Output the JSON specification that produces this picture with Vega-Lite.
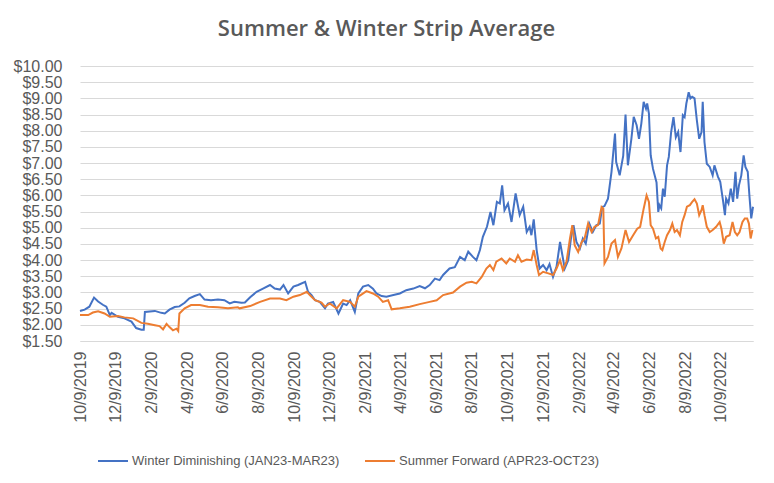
{
"$schema": "https://vega.github.io/schema/vega-lite/v6.json",
"width": 673, "height": 275,
"autosize": "none",
"padding": {"left": 80, "top": 66, "right": 21, "bottom": 142},
"background": "white",
"title": {"text": "Summer & Winter Strip Average", "font": "Open Sans", "fontSize": 22, "fontWeight": 600, "color": "#595959", "anchor": "middle", "dx": -30, "offset": 17},
"data": {"values": [
{"date":"2019-10-09","series":"Winter","price":2.43},
{"date":"2019-10-17","series":"Winter","price":2.47},
{"date":"2019-10-25","series":"Winter","price":2.56},
{"date":"2019-11-02","series":"Winter","price":2.84},
{"date":"2019-11-09","series":"Winter","price":2.72},
{"date":"2019-11-17","series":"Winter","price":2.62},
{"date":"2019-11-23","series":"Winter","price":2.56},
{"date":"2019-11-29","series":"Winter","price":2.30},
{"date":"2019-12-02","series":"Winter","price":2.37},
{"date":"2019-12-13","series":"Winter","price":2.25},
{"date":"2019-12-24","series":"Winter","price":2.20},
{"date":"2020-01-05","series":"Winter","price":2.10},
{"date":"2020-01-13","series":"Winter","price":1.90},
{"date":"2020-01-22","series":"Winter","price":1.85},
{"date":"2020-01-26","series":"Winter","price":1.85},
{"date":"2020-01-28","series":"Winter","price":2.40},
{"date":"2020-02-14","series":"Winter","price":2.43},
{"date":"2020-02-25","series":"Winter","price":2.37},
{"date":"2020-03-02","series":"Winter","price":2.35},
{"date":"2020-03-10","series":"Winter","price":2.47},
{"date":"2020-03-19","series":"Winter","price":2.55},
{"date":"2020-03-27","series":"Winter","price":2.57},
{"date":"2020-04-05","series":"Winter","price":2.68},
{"date":"2020-04-13","series":"Winter","price":2.82},
{"date":"2020-04-22","series":"Winter","price":2.89},
{"date":"2020-05-01","series":"Winter","price":2.95},
{"date":"2020-05-09","series":"Winter","price":2.78},
{"date":"2020-05-20","series":"Winter","price":2.76},
{"date":"2020-06-01","series":"Winter","price":2.78},
{"date":"2020-06-12","series":"Winter","price":2.76},
{"date":"2020-06-21","series":"Winter","price":2.66},
{"date":"2020-06-29","series":"Winter","price":2.71},
{"date":"2020-07-11","series":"Winter","price":2.68},
{"date":"2020-07-17","series":"Winter","price":2.69},
{"date":"2020-07-26","series":"Winter","price":2.85},
{"date":"2020-08-06","series":"Winter","price":3.02},
{"date":"2020-08-17","series":"Winter","price":3.12},
{"date":"2020-08-29","series":"Winter","price":3.23},
{"date":"2020-09-06","series":"Winter","price":3.12},
{"date":"2020-09-15","series":"Winter","price":3.09},
{"date":"2020-09-21","series":"Winter","price":3.23},
{"date":"2020-09-29","series":"Winter","price":2.97},
{"date":"2020-10-08","series":"Winter","price":3.18},
{"date":"2020-10-16","series":"Winter","price":3.23},
{"date":"2020-10-28","series":"Winter","price":3.33},
{"date":"2020-11-02","series":"Winter","price":3.02},
{"date":"2020-11-08","series":"Winter","price":2.92},
{"date":"2020-11-14","series":"Winter","price":2.76},
{"date":"2020-11-22","series":"Winter","price":2.71},
{"date":"2020-12-01","series":"Winter","price":2.51},
{"date":"2020-12-06","series":"Winter","price":2.66},
{"date":"2020-12-15","series":"Winter","price":2.71},
{"date":"2020-12-24","series":"Winter","price":2.35},
{"date":"2021-01-01","series":"Winter","price":2.66},
{"date":"2021-01-07","series":"Winter","price":2.61},
{"date":"2021-01-13","series":"Winter","price":2.76},
{"date":"2021-01-21","series":"Winter","price":2.40},
{"date":"2021-01-27","series":"Winter","price":2.97},
{"date":"2021-02-04","series":"Winter","price":3.18},
{"date":"2021-02-13","series":"Winter","price":3.23},
{"date":"2021-02-21","series":"Winter","price":3.12},
{"date":"2021-02-27","series":"Winter","price":2.97},
{"date":"2021-03-08","series":"Winter","price":2.89},
{"date":"2021-03-16","series":"Winter","price":2.87},
{"date":"2021-03-28","series":"Winter","price":2.92},
{"date":"2021-04-08","series":"Winter","price":2.97},
{"date":"2021-04-19","series":"Winter","price":3.07},
{"date":"2021-05-01","series":"Winter","price":3.12},
{"date":"2021-05-12","series":"Winter","price":3.20},
{"date":"2021-05-21","series":"Winter","price":3.13},
{"date":"2021-05-29","series":"Winter","price":3.23},
{"date":"2021-06-07","series":"Winter","price":3.43},
{"date":"2021-06-15","series":"Winter","price":3.38},
{"date":"2021-06-21","series":"Winter","price":3.54},
{"date":"2021-07-02","series":"Winter","price":3.74},
{"date":"2021-07-11","series":"Winter","price":3.78},
{"date":"2021-07-20","series":"Winter","price":4.10},
{"date":"2021-07-28","series":"Winter","price":4.00},
{"date":"2021-08-03","series":"Winter","price":4.26},
{"date":"2021-08-11","series":"Winter","price":4.10},
{"date":"2021-08-17","series":"Winter","price":4.00},
{"date":"2021-08-23","series":"Winter","price":4.31},
{"date":"2021-08-28","series":"Winter","price":4.72},
{"date":"2021-09-04","series":"Winter","price":5.03},
{"date":"2021-09-10","series":"Winter","price":5.49},
{"date":"2021-09-15","series":"Winter","price":5.08},
{"date":"2021-09-21","series":"Winter","price":5.80},
{"date":"2021-09-26","series":"Winter","price":5.75},
{"date":"2021-09-30","series":"Winter","price":6.31},
{"date":"2021-10-04","series":"Winter","price":5.54},
{"date":"2021-10-10","series":"Winter","price":5.75},
{"date":"2021-10-16","series":"Winter","price":5.18},
{"date":"2021-10-23","series":"Winter","price":6.06},
{"date":"2021-10-30","series":"Winter","price":5.39},
{"date":"2021-11-05","series":"Winter","price":5.65},
{"date":"2021-11-11","series":"Winter","price":4.87},
{"date":"2021-11-16","series":"Winter","price":5.03},
{"date":"2021-11-19","series":"Winter","price":4.77},
{"date":"2021-11-23","series":"Winter","price":5.26},
{"date":"2021-11-28","series":"Winter","price":4.31},
{"date":"2021-12-03","series":"Winter","price":3.74},
{"date":"2021-12-09","series":"Winter","price":3.85},
{"date":"2021-12-15","series":"Winter","price":3.69},
{"date":"2021-12-20","series":"Winter","price":3.88},
{"date":"2021-12-26","series":"Winter","price":3.48},
{"date":"2022-01-01","series":"Winter","price":3.80},
{"date":"2022-01-07","series":"Winter","price":4.56},
{"date":"2022-01-11","series":"Winter","price":4.15},
{"date":"2022-01-15","series":"Winter","price":3.74},
{"date":"2022-01-21","series":"Winter","price":4.00},
{"date":"2022-01-26","series":"Winter","price":4.72},
{"date":"2022-01-30","series":"Winter","price":5.08},
{"date":"2022-02-04","series":"Winter","price":4.56},
{"date":"2022-02-10","series":"Winter","price":4.36},
{"date":"2022-02-15","series":"Winter","price":4.67},
{"date":"2022-02-20","series":"Winter","price":4.51},
{"date":"2022-02-26","series":"Winter","price":5.13},
{"date":"2022-03-04","series":"Winter","price":4.87},
{"date":"2022-03-10","series":"Winter","price":5.08},
{"date":"2022-03-16","series":"Winter","price":5.13},
{"date":"2022-03-20","series":"Winter","price":5.64},
{"date":"2022-03-24","series":"Winter","price":5.67},
{"date":"2022-03-30","series":"Winter","price":5.90},
{"date":"2022-04-05","series":"Winter","price":6.73},
{"date":"2022-04-11","series":"Winter","price":7.91},
{"date":"2022-04-13","series":"Winter","price":7.03},
{"date":"2022-04-19","series":"Winter","price":6.62},
{"date":"2022-04-25","series":"Winter","price":7.22},
{"date":"2022-04-29","series":"Winter","price":8.50},
{"date":"2022-05-03","series":"Winter","price":6.93},
{"date":"2022-05-09","series":"Winter","price":7.75},
{"date":"2022-05-13","series":"Winter","price":8.43},
{"date":"2022-05-18","series":"Winter","price":8.17},
{"date":"2022-05-22","series":"Winter","price":7.75},
{"date":"2022-05-26","series":"Winter","price":8.22},
{"date":"2022-05-30","series":"Winter","price":8.89},
{"date":"2022-06-03","series":"Winter","price":8.68},
{"date":"2022-06-05","series":"Winter","price":8.84},
{"date":"2022-06-08","series":"Winter","price":8.53},
{"date":"2022-06-11","series":"Winter","price":7.24},
{"date":"2022-06-15","series":"Winter","price":6.82},
{"date":"2022-06-21","series":"Winter","price":6.40},
{"date":"2022-06-24","series":"Winter","price":5.49},
{"date":"2022-06-26","series":"Winter","price":5.70},
{"date":"2022-06-29","series":"Winter","price":5.60},
{"date":"2022-07-02","series":"Winter","price":6.21},
{"date":"2022-07-05","series":"Winter","price":5.96},
{"date":"2022-07-09","series":"Winter","price":6.93},
{"date":"2022-07-12","series":"Winter","price":7.19},
{"date":"2022-07-16","series":"Winter","price":7.96},
{"date":"2022-07-20","series":"Winter","price":8.42},
{"date":"2022-07-24","series":"Winter","price":7.80},
{"date":"2022-07-28","series":"Winter","price":7.96},
{"date":"2022-08-01","series":"Winter","price":7.34},
{"date":"2022-08-05","series":"Winter","price":8.48},
{"date":"2022-08-08","series":"Winter","price":8.42},
{"date":"2022-08-11","series":"Winter","price":8.84},
{"date":"2022-08-15","series":"Winter","price":9.19},
{"date":"2022-08-18","series":"Winter","price":9.00},
{"date":"2022-08-21","series":"Winter","price":9.05},
{"date":"2022-08-25","series":"Winter","price":9.00},
{"date":"2022-08-29","series":"Winter","price":8.32},
{"date":"2022-09-02","series":"Winter","price":7.75},
{"date":"2022-09-06","series":"Winter","price":7.96},
{"date":"2022-09-08","series":"Winter","price":8.89},
{"date":"2022-09-11","series":"Winter","price":7.65},
{"date":"2022-09-15","series":"Winter","price":6.98},
{"date":"2022-09-20","series":"Winter","price":6.88},
{"date":"2022-09-25","series":"Winter","price":6.62},
{"date":"2022-09-28","series":"Winter","price":6.93},
{"date":"2022-10-04","series":"Winter","price":6.58},
{"date":"2022-10-08","series":"Winter","price":6.42},
{"date":"2022-10-13","series":"Winter","price":5.80},
{"date":"2022-10-16","series":"Winter","price":5.39},
{"date":"2022-10-18","series":"Winter","price":5.90},
{"date":"2022-10-22","series":"Winter","price":5.75},
{"date":"2022-10-26","series":"Winter","price":6.21},
{"date":"2022-10-30","series":"Winter","price":5.80},
{"date":"2022-11-03","series":"Winter","price":6.73},
{"date":"2022-11-06","series":"Winter","price":5.90},
{"date":"2022-11-09","series":"Winter","price":6.31},
{"date":"2022-11-13","series":"Winter","price":6.62},
{"date":"2022-11-17","series":"Winter","price":7.24},
{"date":"2022-11-20","series":"Winter","price":6.88},
{"date":"2022-11-24","series":"Winter","price":6.73},
{"date":"2022-11-27","series":"Winter","price":5.96},
{"date":"2022-11-30","series":"Winter","price":5.29},
{"date":"2022-12-03","series":"Winter","price":5.65},
{"date":"2019-10-09","series":"Summer","price":2.30},
{"date":"2019-10-23","series":"Summer","price":2.30},
{"date":"2019-10-31","series":"Summer","price":2.38},
{"date":"2019-11-09","series":"Summer","price":2.42},
{"date":"2019-11-20","series":"Summer","price":2.35},
{"date":"2019-11-29","series":"Summer","price":2.25},
{"date":"2019-12-13","series":"Summer","price":2.27},
{"date":"2019-12-24","series":"Summer","price":2.23},
{"date":"2020-01-08","series":"Summer","price":2.20},
{"date":"2020-01-22","series":"Summer","price":2.06},
{"date":"2020-02-02","series":"Summer","price":2.03},
{"date":"2020-02-14","series":"Summer","price":1.99},
{"date":"2020-02-22","series":"Summer","price":1.96},
{"date":"2020-02-28","series":"Summer","price":1.86},
{"date":"2020-03-05","series":"Summer","price":2.03},
{"date":"2020-03-10","series":"Summer","price":1.93},
{"date":"2020-03-16","series":"Summer","price":1.83},
{"date":"2020-03-22","series":"Summer","price":1.88},
{"date":"2020-03-25","series":"Summer","price":1.81},
{"date":"2020-03-27","series":"Summer","price":2.35},
{"date":"2020-04-05","series":"Summer","price":2.51},
{"date":"2020-04-16","series":"Summer","price":2.61},
{"date":"2020-05-01","series":"Summer","price":2.61},
{"date":"2020-05-15","series":"Summer","price":2.56},
{"date":"2020-06-01","series":"Summer","price":2.54},
{"date":"2020-06-18","series":"Summer","price":2.51},
{"date":"2020-07-05","series":"Summer","price":2.54},
{"date":"2020-07-08","series":"Summer","price":2.51},
{"date":"2020-07-26","series":"Summer","price":2.58},
{"date":"2020-08-12","series":"Summer","price":2.71},
{"date":"2020-08-29","series":"Summer","price":2.81},
{"date":"2020-09-15","series":"Summer","price":2.81},
{"date":"2020-09-26","series":"Summer","price":2.76},
{"date":"2020-10-08","series":"Summer","price":2.87},
{"date":"2020-10-19","series":"Summer","price":2.92},
{"date":"2020-10-31","series":"Summer","price":3.02},
{"date":"2020-11-05","series":"Summer","price":2.92},
{"date":"2020-11-14","series":"Summer","price":2.76},
{"date":"2020-11-25","series":"Summer","price":2.69},
{"date":"2020-12-01","series":"Summer","price":2.56},
{"date":"2020-12-09","series":"Summer","price":2.66},
{"date":"2020-12-21","series":"Summer","price":2.51},
{"date":"2021-01-01","series":"Summer","price":2.76},
{"date":"2021-01-13","series":"Summer","price":2.71},
{"date":"2021-01-21","series":"Summer","price":2.56},
{"date":"2021-01-27","series":"Summer","price":2.87},
{"date":"2021-02-10","series":"Summer","price":3.04},
{"date":"2021-02-21","series":"Summer","price":2.97},
{"date":"2021-03-02","series":"Summer","price":2.87},
{"date":"2021-03-10","series":"Summer","price":2.71},
{"date":"2021-03-19","series":"Summer","price":2.76},
{"date":"2021-03-25","series":"Summer","price":2.48},
{"date":"2021-04-08","series":"Summer","price":2.51},
{"date":"2021-04-25","series":"Summer","price":2.56},
{"date":"2021-05-12","series":"Summer","price":2.64},
{"date":"2021-05-29","series":"Summer","price":2.71},
{"date":"2021-06-10","series":"Summer","price":2.76},
{"date":"2021-06-21","series":"Summer","price":2.92},
{"date":"2021-07-08","series":"Summer","price":3.00},
{"date":"2021-07-20","series":"Summer","price":3.18},
{"date":"2021-07-31","series":"Summer","price":3.30},
{"date":"2021-08-09","series":"Summer","price":3.33},
{"date":"2021-08-17","series":"Summer","price":3.28},
{"date":"2021-08-26","series":"Summer","price":3.48},
{"date":"2021-09-03","series":"Summer","price":3.74},
{"date":"2021-09-09","series":"Summer","price":3.85},
{"date":"2021-09-15","series":"Summer","price":3.69},
{"date":"2021-09-20","series":"Summer","price":3.95},
{"date":"2021-09-29","series":"Summer","price":4.05},
{"date":"2021-10-07","series":"Summer","price":3.90},
{"date":"2021-10-13","series":"Summer","price":4.05},
{"date":"2021-10-22","series":"Summer","price":3.95},
{"date":"2021-10-27","series":"Summer","price":4.15},
{"date":"2021-11-02","series":"Summer","price":3.95},
{"date":"2021-11-11","series":"Summer","price":4.02},
{"date":"2021-11-19","series":"Summer","price":4.00},
{"date":"2021-11-23","series":"Summer","price":4.31},
{"date":"2021-11-28","series":"Summer","price":3.85},
{"date":"2021-12-02","series":"Summer","price":3.54},
{"date":"2021-12-09","series":"Summer","price":3.64},
{"date":"2021-12-18","series":"Summer","price":3.59},
{"date":"2021-12-26","series":"Summer","price":3.54},
{"date":"2022-01-01","series":"Summer","price":3.74},
{"date":"2022-01-07","series":"Summer","price":4.00},
{"date":"2022-01-12","series":"Summer","price":3.69},
{"date":"2022-01-18","series":"Summer","price":3.95},
{"date":"2022-01-24","series":"Summer","price":4.67},
{"date":"2022-01-28","series":"Summer","price":5.08},
{"date":"2022-02-01","series":"Summer","price":4.46},
{"date":"2022-02-07","series":"Summer","price":4.25},
{"date":"2022-02-13","series":"Summer","price":4.56},
{"date":"2022-02-18","series":"Summer","price":4.67},
{"date":"2022-02-24","series":"Summer","price":5.13},
{"date":"2022-03-02","series":"Summer","price":4.87},
{"date":"2022-03-07","series":"Summer","price":5.03},
{"date":"2022-03-13","series":"Summer","price":5.08},
{"date":"2022-03-19","series":"Summer","price":5.64},
{"date":"2022-03-22","series":"Summer","price":5.59},
{"date":"2022-03-24","series":"Summer","price":3.90},
{"date":"2022-03-30","series":"Summer","price":4.10},
{"date":"2022-04-05","series":"Summer","price":4.51},
{"date":"2022-04-11","series":"Summer","price":4.62},
{"date":"2022-04-16","series":"Summer","price":4.10},
{"date":"2022-04-22","series":"Summer","price":4.36},
{"date":"2022-04-29","series":"Summer","price":4.93},
{"date":"2022-05-05","series":"Summer","price":4.56},
{"date":"2022-05-12","series":"Summer","price":4.77},
{"date":"2022-05-19","series":"Summer","price":4.97},
{"date":"2022-05-24","series":"Summer","price":5.03},
{"date":"2022-05-30","series":"Summer","price":5.59},
{"date":"2022-06-04","series":"Summer","price":6.00},
{"date":"2022-06-08","series":"Summer","price":5.80},
{"date":"2022-06-11","series":"Summer","price":5.08},
{"date":"2022-06-15","series":"Summer","price":4.97},
{"date":"2022-06-20","series":"Summer","price":4.67},
{"date":"2022-06-24","series":"Summer","price":4.72},
{"date":"2022-06-28","series":"Summer","price":4.36},
{"date":"2022-07-01","series":"Summer","price":4.31},
{"date":"2022-07-05","series":"Summer","price":4.56},
{"date":"2022-07-09","series":"Summer","price":4.77},
{"date":"2022-07-14","series":"Summer","price":4.93},
{"date":"2022-07-18","series":"Summer","price":5.13},
{"date":"2022-07-22","series":"Summer","price":4.87},
{"date":"2022-07-26","series":"Summer","price":4.93},
{"date":"2022-07-31","series":"Summer","price":4.77},
{"date":"2022-08-04","series":"Summer","price":5.18},
{"date":"2022-08-08","series":"Summer","price":5.39},
{"date":"2022-08-12","series":"Summer","price":5.65},
{"date":"2022-08-17","series":"Summer","price":5.70},
{"date":"2022-08-21","series":"Summer","price":5.80},
{"date":"2022-08-25","series":"Summer","price":5.88},
{"date":"2022-08-29","series":"Summer","price":5.75},
{"date":"2022-09-02","series":"Summer","price":5.39},
{"date":"2022-09-06","series":"Summer","price":5.55},
{"date":"2022-09-08","series":"Summer","price":5.70},
{"date":"2022-09-11","series":"Summer","price":5.39},
{"date":"2022-09-15","series":"Summer","price":5.03},
{"date":"2022-09-20","series":"Summer","price":4.87},
{"date":"2022-09-25","series":"Summer","price":4.93},
{"date":"2022-10-01","series":"Summer","price":5.03},
{"date":"2022-10-07","series":"Summer","price":5.18},
{"date":"2022-10-10","series":"Summer","price":4.97},
{"date":"2022-10-14","series":"Summer","price":4.51},
{"date":"2022-10-18","series":"Summer","price":4.72},
{"date":"2022-10-24","series":"Summer","price":4.77},
{"date":"2022-10-29","series":"Summer","price":5.18},
{"date":"2022-11-02","series":"Summer","price":4.87},
{"date":"2022-11-06","series":"Summer","price":4.77},
{"date":"2022-11-10","series":"Summer","price":4.87},
{"date":"2022-11-15","series":"Summer","price":5.18},
{"date":"2022-11-19","series":"Summer","price":5.29},
{"date":"2022-11-23","series":"Summer","price":5.29},
{"date":"2022-11-26","series":"Summer","price":5.13},
{"date":"2022-11-29","series":"Summer","price":4.67},
{"date":"2022-12-02","series":"Summer","price":4.93}
]},
"mark": {"type": "line", "strokeWidth": 2},
"encoding": {
  "x": {"field": "date", "type": "temporal",
    "scale": {"type": "utc", "domain": [{"year": 2019, "month": 10, "date": 9, "utc": true}, {"year": 2022, "month": 12, "date": 3, "utc": true}]},
    "axis": {"title": null, "labelExpr": "utcFormat(datum.value, '%-m/%-d/%Y')", "labelAngle": -90, "ticks": false, "grid": false,
      "domainColor": "#d9d9d9", "domainWidth": 1, "labelFont": "Liberation Sans", "labelFontSize": 16, "labelColor": "#595959",
      "labelPadding": 10, "labelOverlap": false, "labelFlush": false,
      "values": [
        {"year": 2019, "month": 10, "date": 9, "utc": true},
        {"year": 2019, "month": 12, "date": 9, "utc": true},
        {"year": 2020, "month": 2, "date": 9, "utc": true},
        {"year": 2020, "month": 4, "date": 9, "utc": true},
        {"year": 2020, "month": 6, "date": 9, "utc": true},
        {"year": 2020, "month": 8, "date": 9, "utc": true},
        {"year": 2020, "month": 10, "date": 9, "utc": true},
        {"year": 2020, "month": 12, "date": 9, "utc": true},
        {"year": 2021, "month": 2, "date": 9, "utc": true},
        {"year": 2021, "month": 4, "date": 9, "utc": true},
        {"year": 2021, "month": 6, "date": 9, "utc": true},
        {"year": 2021, "month": 8, "date": 9, "utc": true},
        {"year": 2021, "month": 10, "date": 9, "utc": true},
        {"year": 2021, "month": 12, "date": 9, "utc": true},
        {"year": 2022, "month": 2, "date": 9, "utc": true},
        {"year": 2022, "month": 4, "date": 9, "utc": true},
        {"year": 2022, "month": 6, "date": 9, "utc": true},
        {"year": 2022, "month": 8, "date": 9, "utc": true},
        {"year": 2022, "month": 10, "date": 9, "utc": true}
      ]}},
  "y": {"field": "price", "type": "quantitative",
    "scale": {"domain": [1.5, 10], "nice": false, "zero": false},
    "axis": {"title": null, "values": [1.5, 2, 2.5, 3, 3.5, 4, 4.5, 5, 5.5, 6, 6.5, 7, 7.5, 8, 8.5, 9, 9.5, 10],
      "format": "$.2f", "ticks": false, "domain": false, "gridColor": "#d9d9d9", "gridWidth": 1,
      "labelFont": "Liberation Sans", "labelFontSize": 16, "labelColor": "#595959", "labelPadding": 18}},
  "color": {"field": "series", "type": "nominal",
    "scale": {"domain": ["Winter", "Summer"], "range": ["#4472C4", "#ED7D31"]},
    "legend": {"title": null, "orient": "none", "legendX": 17, "legendY": 379, "direction": "horizontal",
      "symbolType": "stroke", "symbolSize": 900, "symbolStrokeWidth": 2,
      "labelFont": "Liberation Sans", "labelFontSize": 13, "labelColor": "#595959", "labelLimit": 400,
      "labelOffset": 3, "columnPadding": 21,
      "labelExpr": "datum.value == 'Winter' ? 'Winter Diminishing (JAN23-MAR23)' : 'Summer Forward (APR23-OCT23)'"}}
},
"config": {"view": {"stroke": null}}
}
